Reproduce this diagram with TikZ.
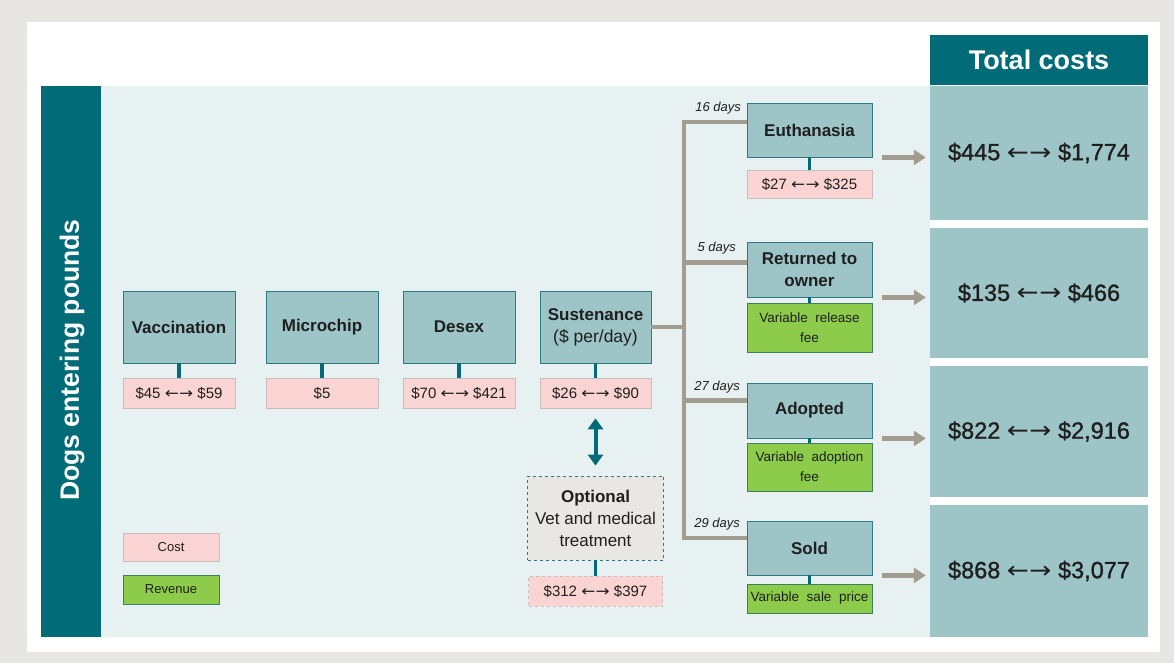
\documentclass[tikz,border=0pt]{standalone}
\usepackage{fontspec}
\usepackage{graphicx}
\setmainfont{Liberation Sans}
\newfontfamily\arrowfont{DejaVu Sans}
\newfontfamily\medfont[FakeBold=1.2]{Liberation Sans}
\usetikzlibrary{arrows.meta,calc}
\definecolor{outer}{HTML}{E7E6E2}
\definecolor{panel}{HTML}{E8F1F1}
\definecolor{tealdark}{HTML}{016B78}
\definecolor{boxfill}{HTML}{9DC4C7}
\definecolor{boxline}{HTML}{2F7A80}
\definecolor{pinkfill}{HTML}{FAD4D3}
\definecolor{pinkline}{HTML}{C9BDBB}
\definecolor{greenfill}{HTML}{8DCB4B}
\definecolor{greenline}{HTML}{3C7F5A}
\definecolor{treegray}{HTML}{A39D90}
\definecolor{optfill}{HTML}{E9E7E3}
\definecolor{txt}{HTML}{1F1F1F}
\newcommand\lr{{\arrowfont\scalebox{1.12}[1]{←\kern0.02em→}}}
\tikzset{
  stagebox/.style={draw=boxline, fill=boxfill, line width=0.8pt, inner sep=0pt,
    minimum width=112pt, align=center, text=txt,
    font=\bfseries\fontsize{17}{22}\selectfont},
  outbox/.style={stagebox, minimum width=125pt},
  costbox/.style={draw=pinkline, fill=pinkfill, line width=0.6pt, inner sep=0pt,
    minimum width=112pt, minimum height=30pt, align=center, text=txt,
    font=\fontsize{15}{18}\selectfont},
  revbox/.style={draw=greenline, fill=greenfill, line width=0.8pt, inner sep=0pt,
    minimum width=125pt, align=center, text=txt,
    font=\fontsize{13.5}{20}\selectfont},
  totalbox/.style={fill=boxfill, inner sep=0pt, minimum width=218pt, text=txt,
    font=\medfont\fontsize{23.5}{27}\selectfont},
  stub/.style={draw=tealdark, line width=3.5pt},
  tree/.style={draw=treegray, line width=4.5pt},
  days/.style={font=\itshape\fontsize{13}{15}\selectfont, text=txt, anchor=east, inner sep=0pt},
  garrow/.style={draw=treegray, line width=5pt, -{Triangle[width=15pt,length=12pt]}},
  tarrow/.style={draw=tealdark, line width=4pt, {Triangle[width=15pt,length=11pt]}-{Triangle[width=15pt,length=11pt]}},
}
\begin{document}
\begin{tikzpicture}[x=1pt,y=-1pt]
\useasboundingbox (0,0) rectangle (1174,663);
\fill[outer] (0,0) rectangle (1174,663);
\fill[white] (27,22) rectangle (1160,652);
\fill[panel] (101,86) rectangle (930,637);

% sidebar
\node[fill=tealdark, minimum width=60pt, minimum height=551pt, inner sep=0pt] (side) at (71,361.5) {};
\node[rotate=90, text=white, font=\bfseries\fontsize{26.5}{30}\selectfont] (sidelabel) at (72,360) {Dogs entering pounds};

% total costs column
\node[fill=tealdark, minimum width=218pt, minimum height=50pt, inner sep=0pt, text=white,
  font=\bfseries\fontsize{27}{30}\selectfont] (head) at (1039,60) {Total costs};
\node[totalbox, minimum height=134pt] (t1) at (1039,153) {\$445 \lr\ \$1,774};
\node[totalbox, minimum height=130pt] (t2) at (1039,293) {\$135 \lr\ \$466};
\node[totalbox, minimum height=131pt] (t3) at (1039,431.5) {\$822 \lr\ \$2,916};
\node[totalbox, minimum height=132pt] (t4) at (1039,571) {\$868 \lr\ \$3,077};

% main stages
\node[stagebox, minimum height=72pt] (vac) at (179,327) {Vaccination};
\node[costbox] (vacc) at (179,393) {\$45 \lr\ \$59};
\node[stagebox, minimum height=72pt] (mic) at (322,327) {Microchip};
\node[costbox] (micc) at (322,393) {\$5};
\node[stagebox, minimum height=72pt] (des) at (459,327) {Desex};
\node[costbox] (desc) at (459,393) {\$70 \lr\ \$421};
\node[stagebox, minimum height=72pt, minimum width=111pt] (sus) at (595.5,327) {Sustenance\\\mdseries\fontsize{17.5}{22}\selectfont(\$ per/day)};
\node[costbox, minimum width=111pt] (susc) at (595.5,393) {\$26 \lr\ \$90};

% optional
\node[draw=boxline, dashed, fill=optfill, line width=0.8pt, minimum width=136pt, minimum height=84pt,
  inner sep=0pt, align=center, text=txt, font=\fontsize{17}{22}\selectfont] (opt) at (595.5,518)
  {\textbf{Optional}\\Vet and medical\\treatment};
\node[costbox, dashed, minimum width=134pt] (optc) at (595.5,591) {\$312 \lr\ \$397};

% outcomes
\node[outbox, minimum height=54pt] (euth) at (809.5,130) {Euthanasia};
\node[costbox, minimum width=125pt, minimum height=28pt] (euthc) at (809.5,184) {\$27 \lr\ \$325};
\node[outbox, minimum height=55pt] (ret) at (809.5,269.5) {Returned to\\owner};
\node[revbox, minimum height=49pt] (retc) at (809.5,327.5) {Variable\ \ release\\fee};
\node[outbox, minimum height=55pt] (adop) at (809.5,410.5) {Adopted};
\node[revbox, minimum height=48pt] (adopc) at (809.5,467) {Variable\ \ adoption\\fee};
\node[outbox, minimum height=54pt] (sold) at (809.5,548) {Sold};
\node[revbox, minimum height=29pt] (soldc) at (809.5,598.5) {Variable\ \ sale\ \ price};

% legend
\node[costbox, minimum width=96pt, minimum height=28pt, font=\fontsize{13}{15}\selectfont] (lcost) at (171,547) {Cost};
\node[revbox, minimum width=96pt, minimum height=29pt, font=\fontsize{13}{15}\selectfont] (lrev) at (171,589.5) {Revenue};

% stubs
\foreach \a/\b in {vac/vacc, mic/micc, des/desc, sus/susc, opt/optc, euth/euthc, ret/retc, adop/adopc, sold/soldc}
  \draw[stub] (\a.south) -- (\b.north);

% double arrow
\draw[tarrow] ([yshift=-10pt]susc.south) -- ([yshift=10pt]opt.north);

% tree
\coordinate (j) at (684,327);
\draw[tree] (sus.east) -- (j);
\draw[tree] (j) |- ([yshift=8pt]euth.west);
\draw[tree] (j) |- ([yshift=7pt]ret.west);
\draw[tree] (j) |- ([yshift=10pt]adop.west);
\draw[tree] (j) |- ([yshift=10pt]sold.west);

% day labels
\node[days] (d1) at (741,108) {16 days};
\node[days] (d2) at (736,248) {5 days};
\node[days] (d3) at (740,387) {27 days};
\node[days] (d4) at (740,524) {29 days};

% grey arrows
\draw[garrow] ([xshift=10pt]euth.south east) -- ([xshift=-4pt]euth.south east -| t1.west);
\draw[garrow] ([xshift=10pt]ret.south east) -- ([xshift=-4pt]ret.south east -| t2.west);
\draw[garrow] ([xshift=10pt]adop.south east) -- ([xshift=-4pt]adop.south east -| t3.west);
\draw[garrow] ([xshift=10pt]sold.south east) -- ([xshift=-4pt]sold.south east -| t4.west);
\end{tikzpicture}
\end{document}
